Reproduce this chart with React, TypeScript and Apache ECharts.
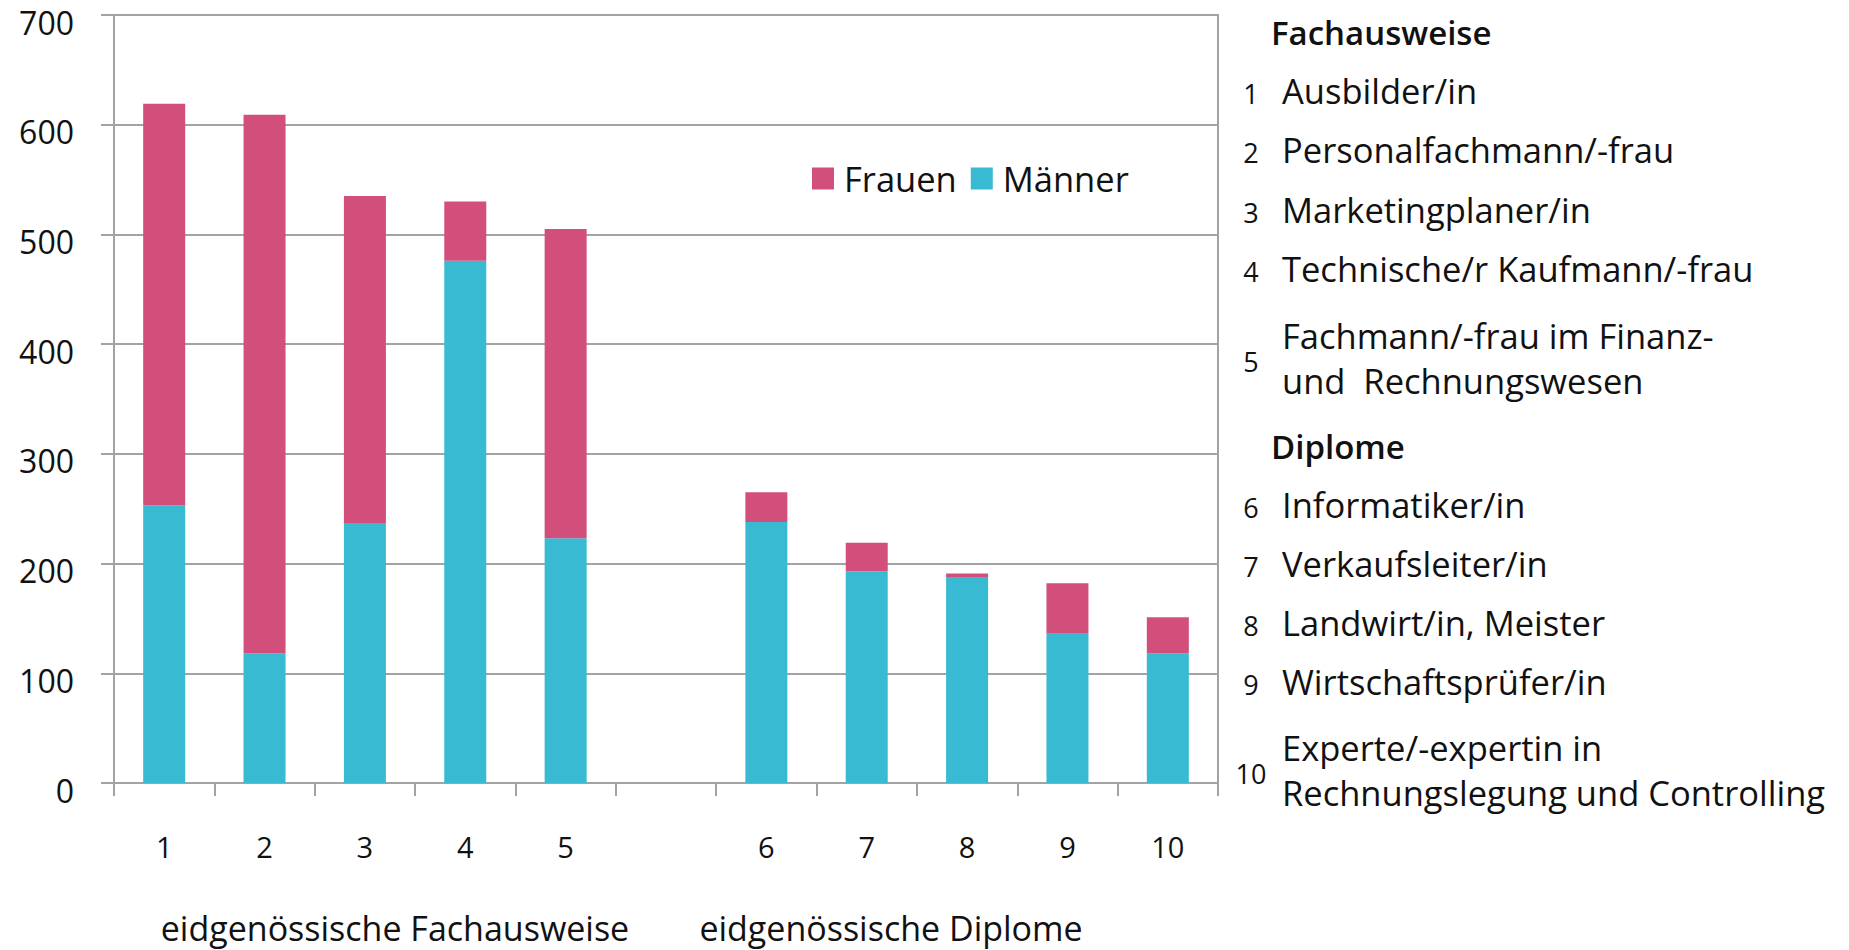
import React, { useEffect, useRef } from "react";
import * as echarts from "echarts";

const categories = ["1", "2", "3", "4", "5", "", "6", "7", "8", "9", "10"];
const maenner = [253, 118, 237, 476, 223, null, 238, 193, 187, 136, 118];
const frauen = [366, 491, 298, 54, 282, null, 27, 26, 4, 46, 33];
const yTicks = [0, 100, 200, 300, 400, 500, 600, 700];
const groupLabels = ["eidgenössische Fachausweise", "eidgenössische Diplome"];
const fachTitle = "Fachausweise";
const fachNames = [
  "Ausbilder/in",
  "Personalfachmann/-frau",
  "Marketingplaner/in",
  "Technische/r Kaufmann/-frau",
  "Fachmann/-frau im Finanz-\nund  Rechnungswesen",
];
const diplTitle = "Diplome";
const diplNames = [
  "Informatiker/in",
  "Verkaufsleiter/in",
  "Landwirt/in, Meister",
  "Wirtschaftsprüfer/in",
  "Experte/-expertin in\nRechnungslegung und Controlling",
];

const FONT = "'Open Sans', sans-serif";
const TEXT = "#111111";
const GRIDC = "#a3a3a3";

export default function App() {
  const ref = useRef<HTMLDivElement>(null);
  useEffect(() => {
    if (!ref.current) return;
    const chart = echarts.init(ref.current, undefined, { renderer: "svg" });

    const graphics: any[] = [];
    graphics.push({
      type: "text",
      x: 395,
      y: 928,
      style: { text: groupLabels[0], fontSize: 34, fontFamily: FONT, fill: TEXT, align: "center", verticalAlign: "middle" },
    });
    graphics.push({
      type: "text",
      x: 891,
      y: 928,
      style: { text: groupLabels[1], fontSize: 34, fontFamily: FONT, fill: TEXT, align: "center", verticalAlign: "middle" },
    });
    const numX = 1251;
    const txtX = 1282;
    graphics.push({
      type: "text",
      x: 1271,
      y: 32,
      style: { text: fachTitle, fontSize: 33, fontWeight: 600, fontFamily: FONT, fill: TEXT, align: "left", verticalAlign: "middle" },
    });
    graphics.push({
      type: "text",
      x: 1271,
      y: 446,
      style: { text: diplTitle, fontSize: 33, fontWeight: 600, fontFamily: FONT, fill: TEXT, align: "left", verticalAlign: "middle" },
    });
    const fachY = [90, 149, 209, 268, 358];
    const diplY = [504, 563, 622, 681, 770];
    const addItems = (names: string[], ys: number[], start: number) => {
      names.forEach((n, i) => {
        graphics.push({
          type: "text",
          x: numX,
          y: ys[i] + 3,
          style: { text: String(start + i), fontSize: 27, fontFamily: FONT, fill: TEXT, align: "center", verticalAlign: "middle" },
        });
        graphics.push({
          type: "text",
          x: txtX,
          y: ys[i],
          style: { text: n, fontSize: 34.5, lineHeight: 45, fontFamily: FONT, fill: TEXT, align: "left", verticalAlign: "middle" },
        });
      });
    };
    addItems(fachNames, fachY, 1);
    addItems(diplNames, diplY, 6);

    chart.setOption({
      animation: false,
      backgroundColor: "#ffffff",
      grid: {
        left: 114,
        top: 15,
        width: 1104,
        height: 768,
        show: true,
        borderColor: GRIDC,
        borderWidth: 2,
        containLabel: false,
      },
      legend: {
        data: ["Frauen", "Männer"],
        left: 812,
        top: 161,
        padding: 0,
        itemWidth: 22,
        itemHeight: 22,
        itemGap: 14,
        icon: "rect",
        textStyle: { fontSize: 34.5, fontFamily: FONT, color: TEXT, padding: [0, 0, 0, 5] },
      },
      xAxis: {
        type: "category",
        data: categories,
        axisLine: { lineStyle: { color: GRIDC, width: 2 } },
        axisTick: { show: true, length: 13, lineStyle: { color: GRIDC, width: 2 } },
        axisLabel: { fontSize: 29, fontFamily: FONT, color: TEXT, margin: 49 },
      },
      yAxis: {
        type: "value",
        min: 0,
        max: 700,
        interval: 100,
        axisLine: { show: true, lineStyle: { color: GRIDC, width: 2 } },
        axisTick: { show: true, length: 13, lineStyle: { color: GRIDC, width: 2 } },
        splitLine: { show: true, lineStyle: { color: GRIDC, width: 2 } },
        axisLabel: {
          fontSize: 32,
          fontFamily: FONT,
          color: TEXT,
          margin: 40,
          verticalAlign: "top",
          lineHeight: 14,
          formatter: (v: number) => (yTicks.includes(v) ? String(v) : ""),
        },
      },
      series: [
        {
          name: "Männer",
          type: "bar",
          stack: "total",
          barWidth: 42,
          data: maenner,
          itemStyle: { color: "#38bad2" },
        },
        {
          name: "Frauen",
          type: "bar",
          stack: "total",
          barWidth: 42,
          data: frauen,
          itemStyle: { color: "#d34f7b" },
        },
      ],
      graphic: graphics,
    });
    return () => chart.dispose();
  }, []);
  return (
    <div
      ref={ref}
      style={{ position: "fixed", left: 0, top: 0, width: 1849, height: 950, background: "#fff" }}
    />
  );
}
